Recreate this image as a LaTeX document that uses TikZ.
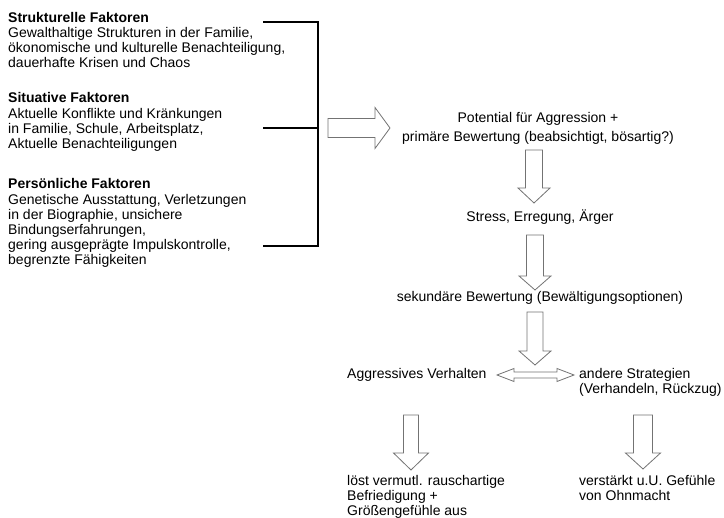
\documentclass[tikz,border=0pt]{standalone}
\usepackage{fontspec}
\setmainfont{Liberation Sans}
\usepackage{tikz}
\usetikzlibrary{calc, positioning}

\newcommand{\diagfont}{\fontsize{14}{15}\selectfont\lineskiplimit=-6pt\relax}

% hollow block arrow: shaft half width, head half width, head length, from, to
\newcommand{\fatarrow}[5]{%
  \path ($(#5)!#3!(#4)$) coordinate (fa-base);
  \draw[blockarrow] ($(#4)!#1!90:(#5)$) -- ($(fa-base)!#1!90:(#5)$)
    -- ($(fa-base)!#2!90:(#5)$) -- (#5) -- ($(fa-base)!#2!-90:(#5)$)
    -- ($(fa-base)!#1!-90:(#5)$) -- ($(#4)!#1!-90:(#5)$) -- cycle;}

\begin{document}
\begin{tikzpicture}[x=1pt, y=-1pt,
    every node/.style={inner sep=0pt, font=\diagfont},
    factor/.style={anchor=base west, align=left},
    stage/.style={anchor=base, align=center},
    blockarrow/.style={draw=black!55, fill=white, line width=0.8pt, line join=miter},
    bracket/.style={line width=1.4pt, line join=miter}]
        \useasboundingbox (0,0) rectangle (724,518);

        % Factors (placed at the baseline of their last line)
        \node[factor] (strukt) at (8, 67.5) {\textbf{Strukturelle Faktoren}\\
            Gewalthaltige Strukturen in der Familie,\\
            ökonomische und kulturelle Benachteiligung,\\
            dauerhafte Krisen und Chaos};
        \node[factor] (situativ) at (8, 148.5) {\textbf{Situative Faktoren}\\[1pt]
            Aktuelle Konflikte und Kränkungen\\
            in Familie, Schule, Arbeitsplatz,\\
            Aktuelle Benachteiligungen};
        \node[factor] (persoenl) at (8, 265) {\textbf{Persönliche Faktoren}\\[1pt]
            Genetische Ausstattung, Verletzungen\\
            in der Biographie, unsichere\\
            Bindungserfahrungen,\\
            gering ausgeprägte Impulskontrolle,\\
            begrenzte Fähigkeiten};

        % Bracket
        \coordinate (b1) at (263, 22);
        \coordinate (b2) at (263, 128);
        \coordinate (b3) at (263, 246);
        \coordinate (bx) at (318, 128);
        \draw[bracket] (b1) -| (bx) |- (b3);
        \draw[bracket] (b2) -- (bx);

        % Stages
        \node[stage] (potential) at (538, 142) {Potential für Aggression +\\[4pt]
            primäre Bewertung (beabsichtigt, bösartig?)};
        \node[stage] (stress) at (540, 222) {Stress, Erregung, Ärger};
        \node[stage] (sekundaer) at (540, 302) {sekundäre Bewertung (Bewältigungsoptionen)};
        \node[factor] (aggr) at (347, 379) {Aggressives Verhalten};
        \node[factor] (andere) at (579, 394) {andere Strategien\\(Verhandeln, Rückzug)};
        \node[factor] (rausch) at (347, 516) {löst vermutl. rauschartige\\
            Befriedigung +\\Größengefühle aus};
        \node[factor] (ohnmacht) at (579, 501) {verstärkt u.U. Gefühle\\von Ohnmacht};

        % Arrow ends
        \coordinate (r0) at (328, 128);  \coordinate (r1) at (390, 128);
        \coordinate (p0) at (534, 150);  \coordinate (p1) at (534, 203);
        \coordinate (s0) at (535, 235);  \coordinate (s1) at (535, 290);
        \coordinate (k0) at (535, 312);  \coordinate (k1) at (535, 365);
        \coordinate (g0) at (411, 415);  \coordinate (g1) at (411, 470);
        \coordinate (o0) at (643, 415);  \coordinate (o1) at (643, 469);
        \coordinate (dl) at (497, 375);  \coordinate (dr) at (574, 375);

        % Arrows
        \fatarrow{9.5pt}{20.5pt}{15pt}{r0}{r1}
        \fatarrow{8.5pt}{16pt}{15pt}{p0}{p1}
        \fatarrow{8.5pt}{16pt}{14pt}{s0}{s1}
        \fatarrow{8pt}{16pt}{14pt}{k0}{k1}
        \fatarrow{7.5pt}{17.5pt}{17pt}{g0}{g1}
        \fatarrow{9.5pt}{17.5pt}{16pt}{o0}{o1}

        % Double arrow between the two options
        \path ($(dl)!17pt!(dr)$) coordinate (dl-h) ($(dr)!17pt!(dl)$) coordinate (dr-h);
        \draw[blockarrow] (dl) -- ($(dl-h)!6.5pt!90:(dr)$) -- ($(dl-h)!3pt!90:(dr)$)
            -- ($(dr-h)!3pt!-90:(dl)$) -- ($(dr-h)!6.5pt!-90:(dl)$) -- (dr)
            -- ($(dr-h)!6.5pt!90:(dl)$) -- ($(dr-h)!3pt!90:(dl)$)
            -- ($(dl-h)!3pt!-90:(dr)$) -- ($(dl-h)!6.5pt!-90:(dr)$) -- cycle;
    \end{tikzpicture}
\end{document}
